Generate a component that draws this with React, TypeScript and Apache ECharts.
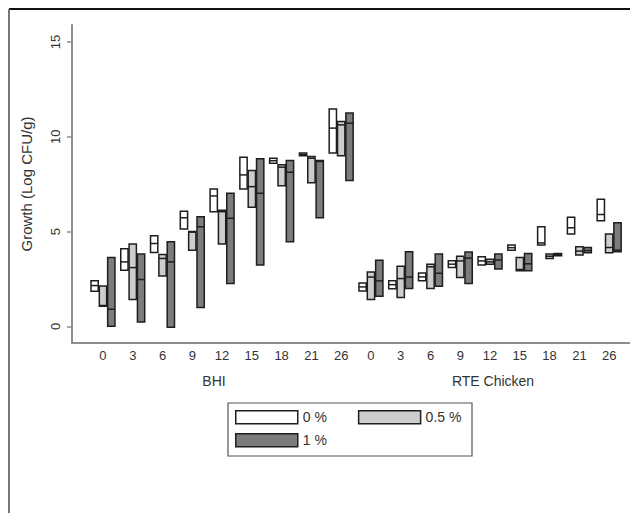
import React, { useEffect, useRef } from "react";
import * as echarts from "echarts";

// Category labels (days) per medium, and medium names
const days = ["0", "3", "6", "9", "12", "15", "18", "21", "26"];
const media = ["BHI", "RTE Chicken"];
const concentrations = ["0 %", "0.5 %", "1 %"];
const yTicks = [0, 5, 10, 15];

// 0 % (white): lower hinge, median, upper hinge — BHI days then RTE Chicken days
const low0 = [1.85, 2.96, 3.9, 5.13, 6.05, 7.25, 8.61, 9.0, 9.14, 1.87, 1.98, 2.4, 3.1, 3.23, 4.02, 4.29, 4.87, 5.57];
const med0 = [2.15, 3.4, 4.37, 5.73, 6.88, 7.99, 8.74, 9.07, 10.46, 2.08, 2.2, 2.61, 3.28, 3.45, 4.15, 4.4, 5.2, 5.9];
const high0 = [2.4, 4.09, 4.78, 6.07, 7.25, 8.92, 8.87, 9.14, 11.47, 2.29, 2.4, 2.82, 3.46, 3.67, 4.29, 5.25, 5.75, 6.7];

// 0.5 % (light grey)
const low05 = [1.06, 1.41, 2.66, 4.02, 4.34, 6.28, 7.42, 7.58, 9.0, 1.41, 1.52, 1.99, 2.58, 3.28, 2.93, 3.58, 3.76, 3.88];
const med05 = [1.1, 3.1, 3.58, 4.97, 6.05, 7.37, 8.4, 8.87, 10.63, 2.6, 2.52, 3.14, 3.45, 3.4, 3.0, 3.7, 3.97, 4.16];
const high05 = [2.13, 4.34, 3.79, 5.0, 6.12, 8.22, 8.52, 8.96, 10.81, 2.87, 3.17, 3.28, 3.7, 3.54, 3.63, 3.81, 4.2, 4.87];

// 1 % (dark grey)
const low1 = [0.0, 0.23, -0.05, 0.99, 2.26, 3.23, 4.46, 5.73, 7.69, 1.59, 1.99, 2.12, 2.26, 3.03, 2.93, 3.72, 3.88, 3.93];
const med1 = [0.9, 2.47, 3.4, 5.25, 5.7, 7.02, 8.13, 8.7, 10.72, 2.4, 2.6, 2.8, 3.6, 3.5, 3.3, 3.78, 4.0, 4.02];
const high1 = [3.63, 3.81, 4.46, 5.78, 7.02, 8.84, 8.75, 8.75, 11.25, 3.49, 3.93, 3.81, 3.92, 3.81, 3.84, 3.84, 4.16, 5.47];

const fills = ["#ffffff", "#cdcdcd", "#7c7c7c"];
const STROKE = "#1e1e1e";
const TEXT = "#333333";
const STEP = 0.28;
const BOXW = 0.245;
const FONT = "Liberation Sans, Arial, sans-serif";

const seriesSets = [
  [low0, med0, high0],
  [low05, med05, high05],
  [low1, med1, high1],
];

function makeRender(k: number) {
  return (params: any, api: any) => {
    const x = api.value(0) + (k - 1) * STEP;
    const top = api.coord([x, api.value(3)]);
    const bot = api.coord([x, api.value(1)]);
    const mid = api.coord([x, api.value(2)]);
    const w = api.size([BOXW, 0])[0];
    return {
      type: "group",
      children: [
        {
          type: "rect",
          shape: { x: top[0] - w / 2, y: top[1], width: w, height: Math.max(bot[1] - top[1], 1) },
          style: { fill: fills[k], stroke: STROKE, lineWidth: 1.5 },
        },
        {
          type: "line",
          shape: { x1: top[0] - w / 2, y1: mid[1], x2: top[0] + w / 2, y2: mid[1] },
          style: { stroke: STROKE, lineWidth: 1.5 },
        },
      ],
    };
  };
}

function legendItem(k: number) {
  return {
    name: concentrations[k],
    icon: "rect",
    itemStyle: { color: fills[k], borderColor: STROKE, borderWidth: 1.5 },
    textStyle: { color: TEXT, fontSize: 14, fontFamily: FONT },
  };
}

export default function App() {
  const ref = useRef<HTMLDivElement>(null);
  useEffect(() => {
    if (!ref.current) return;
    const chart = echarts.init(ref.current, null, { renderer: "svg" });
    const nCat = days.length * media.length;
    const catIdx = Array.from({ length: nCat }, (_, i) => i);
    const series = seriesSets.map((set, k) => ({
      name: concentrations[k],
      type: "custom",
      renderItem: makeRender(k),
      encode: { x: 0, y: [1, 2, 3] },
      itemStyle: { color: fills[k], borderColor: STROKE, borderWidth: 1.5 },
      data: catIdx.map((i) => [i, set[0][i], set[1][i], set[2][i]]),
    }));
    const legendBase = {
      padding: 0,
      itemWidth: 62,
      itemHeight: 13,
      selectedMode: false,
      inactiveColor: TEXT,
      textStyle: { color: TEXT, fontSize: 14, fontFamily: FONT },
    };
    chart.setOption({
      animation: false,
      backgroundColor: "#ffffff",
      textStyle: { fontFamily: FONT, color: TEXT },
      grid: { left: 72, right: 0, top: 25, bottom: 170 },
      xAxis: {
        type: "value",
        min: -1.04,
        max: 17.7,
        splitLine: { show: false },
        axisTick: { show: false },
        axisLine: { show: true, onZero: false, lineStyle: { color: "#8c8c8c", width: 2 } },
        axisLabel: {
          customValues: catIdx,
          formatter: (v: number) => days[Math.round(v) % days.length],
          color: TEXT,
          fontSize: 13,
          margin: 6,
          fontFamily: FONT,
        },
      },
      yAxis: {
        type: "value",
        min: -0.88,
        max: 15.9,
        name: "Growth (Log CFU/g)",
        nameLocation: "middle",
        nameGap: 38,
        nameTextStyle: { color: TEXT, fontSize: 15, fontFamily: FONT },
        splitLine: { show: false },
        axisLine: { show: true, onZero: false, lineStyle: { color: "#8c8c8c", width: 2 } },
        axisTick: { show: true, customValues: yTicks, length: 5, lineStyle: { color: "#8c8c8c", width: 1.5 } },
        axisLabel: {
          customValues: yTicks,
          rotate: 90,
          color: TEXT,
          fontSize: 13,
          margin: 10,
          fontFamily: FONT,
        },
      },
      legend: [
        { ...legendBase, left: 235, top: 410, itemGap: 31, data: [legendItem(0), legendItem(1)] },
        { ...legendBase, left: 235, top: 433, data: [legendItem(2)] },
      ],
      graphic: [
        { type: "line", shape: { x1: 9, y1: 9, x2: 630, y2: 9 }, style: { stroke: "#111", lineWidth: 2 } },
        { type: "line", shape: { x1: 9, y1: 9, x2: 9, y2: 513 }, style: { stroke: "#777", lineWidth: 2 } },
        {
          type: "rect",
          shape: { x: 228, y: 403, width: 244, height: 53 },
          style: { fill: "none", stroke: "#555", lineWidth: 1.2 },
        },
        {
          type: "text",
          x: 214,
          y: 381,
          style: { text: media[0], fill: TEXT, font: `14px ${FONT}`, align: "center", verticalAlign: "middle" },
        },
        {
          type: "text",
          x: 493,
          y: 381,
          style: { text: media[1], fill: TEXT, font: `14px ${FONT}`, align: "center", verticalAlign: "middle" },
        },
      ],
      series,
    });
    return () => chart.dispose();
  }, []);
  return (
    <div
      ref={ref}
      style={{ position: "fixed", left: 0, top: 0, width: 630, height: 513, background: "#fff" }}
    />
  );
}
